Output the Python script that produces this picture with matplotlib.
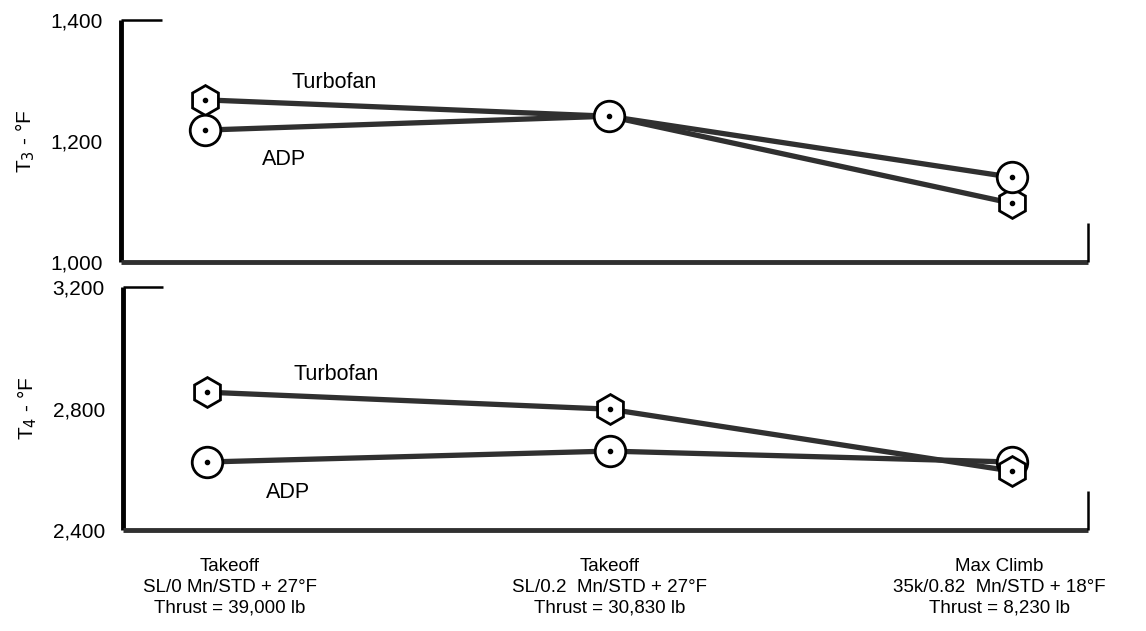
import matplotlib
import matplotlib.pyplot as plt
from matplotlib.transforms import blended_transform_factory

matplotlib.use('Agg')
plt.rcParams['font.family'] = ['Liberation Sans', 'DejaVu Sans']

conditions = ['Takeoff\nSL/0 Mn/STD + 27°F\nThrust = 39,000 lb',
              'Takeoff\nSL/0.2  Mn/STD + 27°F\nThrust = 30,830 lb',
              'Max Climb\n35k/0.82  Mn/STD + 18°F\nThrust = 8,230 lb']
t3_turbofan = [1268, 1241, 1097]
t3_adp = [1218, 1241, 1140]
t4_turbofan = [2854, 2798, 2594]
t4_adp = [2624, 2660, 2624]
t3_ticks = [1000, 1200, 1400]
t4_ticks = [2400, 2800, 3200]

LINE = '#303030'
xs = list(range(len(conditions)))


def frame(ax):
    # open frame: long left + bottom, short stubs top-left and bottom-right
    for s in ax.spines.values():
        s.set_visible(False)
    kw = dict(transform=ax.transAxes, color='black', clip_on=False,
              solid_capstyle='butt')
    ax.plot([0, 0], [0, 1], lw=3.5, **kw)
    ax.plot([0, 1], [0, 0], lw=3.5, color=LINE, transform=ax.transAxes,
            clip_on=False, solid_capstyle='butt')
    ax.plot([0, 0.042], [1, 1], lw=1.8, **kw)
    ax.plot([1, 1], [0, 0.16], lw=1.8, **kw)
    ax.tick_params(length=0, labelsize=15, pad=13)
    ax.set_xticks([])


def series(ax, vals, marker, ms, z):
    ax.plot(xs, vals, color=LINE, lw=3.8, zorder=2)
    ax.plot(xs, vals, ls='none', marker=marker, ms=ms, mfc='white',
            mec='black', mew=2, zorder=z)
    ax.plot(xs, vals, ls='none', marker='o', ms=3, color='black', zorder=z + 0.5)


fig = plt.figure(figsize=(11.46, 6.31), dpi=100)
ax1 = fig.add_axes([0.1056, 0.5848, 0.8438, 0.3835])
ax2 = fig.add_axes([0.1073, 0.160, 0.8421, 0.385])

for ax in (ax1, ax2):
    ax.set_xlim(-0.208, 2.188)

series(ax1, t3_turbofan, 'h', 21.5, 3)
series(ax1, t3_adp, 'o', 22, 4)
ax1.set_ylim(t3_ticks[0], t3_ticks[-1])
ax1.set_yticks(t3_ticks)
ax1.set_yticklabels([f'{v:,}' for v in t3_ticks])
frame(ax1)
ax1.text(0.215, 1297, 'Turbofan', fontsize=15.5, ha='left', va='center')
ax1.text(0.142, 1170, 'ADP', fontsize=15.5, ha='left', va='center')
ax1.set_ylabel('T$_3$ - °F', fontsize=15, labelpad=10)

series(ax2, t4_turbofan, 'h', 21.5, 4)
series(ax2, t4_adp, 'o', 22, 3)
ax2.set_ylim(t4_ticks[0], t4_ticks[-1])
ax2.set_yticks(t4_ticks)
ax2.set_yticklabels([f'{v:,}' for v in t4_ticks])
frame(ax2)
ax2.text(0.215, 2912, 'Turbofan', fontsize=15.5, ha='left', va='center')
ax2.text(0.147, 2524, 'ADP', fontsize=15.5, ha='left', va='center')
ax2.set_ylabel('T$_4$ - °F', fontsize=15, labelpad=10)

trans = blended_transform_factory(ax2.transData, ax2.transAxes)
label_shift = [0.057, 0.0, -0.032]
for x, txt, dx in zip(xs, conditions, label_shift):
    ax2.text(x + dx, -0.115, txt, transform=trans, ha='center', va='top',
             fontsize=13.5, linespacing=1.3)

fig.savefig('out.png', dpi=100)
